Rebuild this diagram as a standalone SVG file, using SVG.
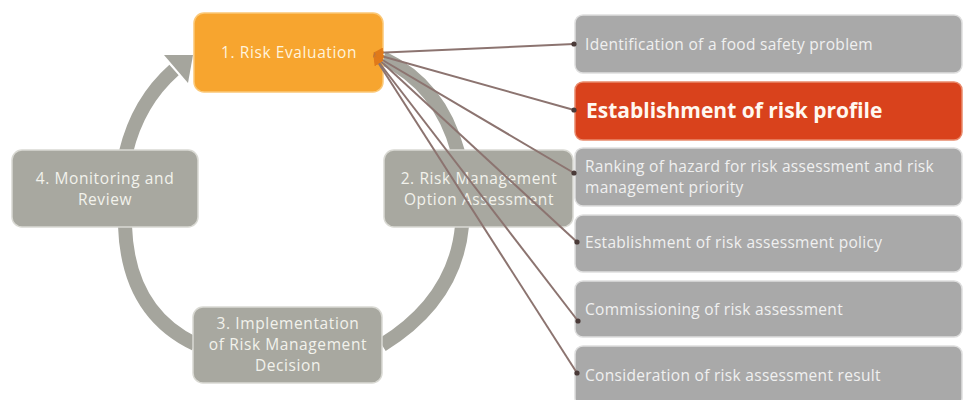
<svg xmlns="http://www.w3.org/2000/svg" width="965" height="400" viewBox="0 0 965 400">
  <style>
    .ring { fill: none; stroke: #a5a59d; stroke-width: 14; stroke-linecap: butt; }
    .step { fill: #a8a8a0; stroke: #d9d9d3; stroke-width: 1.5; }
    .step-active { fill: #f7a52f; stroke: #fbc877; stroke-width: 1.5; }
    .item { fill: #a9a9a9; stroke: #dedede; stroke-width: 1.5; }
    .item-hl { fill: #d9421c; stroke: #e98a6c; stroke-width: 1.5; }
    .step-text { font-family: "Open Sans", "Noto Sans", sans-serif; font-size: 15.5px; letter-spacing: 0.6px; fill: #f2f2ec; text-anchor: middle; }
    .active-text { fill: #fff3dc; }
    .item-text { font-family: "Open Sans", "Noto Sans", sans-serif; font-size: 15.5px; letter-spacing: 0.3px; fill: #f0f0f0; }
    .hl-text { font-family: "Open Sans", "Noto Sans", sans-serif; font-size: 21px; font-weight: bold; fill: #fff8f0; }
    .link { stroke: #8c7470; stroke-width: 2; fill: none; marker-end: url(#dot); marker-start: url(#tip); }
  </style>
  <defs>
    <marker id="dot" viewBox="0 0 6 6" refX="3" refY="3" markerWidth="6" markerHeight="6" markerUnits="userSpaceOnUse">
      <circle cx="3" cy="3" r="2.6" fill="#4a3a38"/>
    </marker>
    <marker id="tip" viewBox="0 0 10 10" refX="1" refY="5" markerWidth="10" markerHeight="10" markerUnits="userSpaceOnUse" orient="auto">
      <path d="M0,5 L10,0 L10,10 Z" fill="#e07a1a"/>
    </marker>
  </defs>

  <!-- cycle ring between the four steps -->
  <g id="cycle-ring">
    <path class="ring" d="M126,152 Q138,102 174,70"/>
    <polygon points="164,55 193,55 188,83" fill="#a5a59d"/>
    <path class="ring" d="M383,58 Q440,85 458,152"/>
    <path class="ring" d="M462,226 Q455,300 382,345"/>
    <path class="ring" d="M125,226 Q128,312 195,344"/>
  </g>

  <!-- cycle steps -->
  <g id="step-1">
    <rect class="step-active" x="194" y="13" width="189" height="79" rx="10"/>
    <text class="step-text active-text" x="289" y="58">1. Risk Evaluation</text>
  </g>
  <g id="step-2">
    <rect class="step" x="384" y="150" width="189" height="77" rx="10"/>
    <text class="step-text" x="479" y="184">2. Risk Management</text>
    <text class="step-text" x="479" y="205">Option Assessment</text>
  </g>
  <g id="step-3">
    <rect class="step" x="193" y="307" width="189" height="76" rx="10"/>
    <text class="step-text" x="288" y="329">3. Implementation</text>
    <text class="step-text" x="288" y="350">of Risk Management</text>
    <text class="step-text" x="288" y="371">Decision</text>
  </g>
  <g id="step-4">
    <rect class="step" x="12" y="150" width="186" height="77" rx="10"/>
    <text class="step-text" x="105" y="184">4. Monitoring and</text>
    <text class="step-text" x="105" y="205">Review</text>
  </g>

  <!-- risk evaluation activities -->
  <g id="item-1">
    <rect class="item" x="575" y="15" width="387" height="58" rx="8"/>
    <text class="item-text" x="585" y="50">Identification of a food safety problem</text>
  </g>
  <g id="item-2">
    <rect class="item-hl" x="575" y="82" width="387" height="58" rx="8"/>
    <text class="hl-text" x="586" y="118">Establishment of risk profile</text>
  </g>
  <g id="item-3">
    <rect class="item" x="575" y="148" width="387" height="58" rx="8"/>
    <text class="item-text" x="585" y="172">Ranking of hazard for risk assessment and risk</text>
    <text class="item-text" x="585" y="193">management priority</text>
  </g>
  <g id="item-4">
    <rect class="item" x="575" y="215" width="387" height="57" rx="8"/>
    <text class="item-text" x="585" y="248">Establishment of risk assessment policy</text>
  </g>
  <g id="item-5">
    <rect class="item" x="575" y="281" width="387" height="56" rx="8"/>
    <text class="item-text" x="585" y="315">Commissioning of risk assessment</text>
  </g>
  <g id="item-6">
    <rect class="item" x="575" y="346" width="387" height="60" rx="8"/>
    <text class="item-text" x="585" y="381">Consideration of risk assessment result</text>
  </g>

  <!-- links from step 1 to each activity -->
  <g id="connectors">
    <line class="link" x1="374" y1="53" x2="574" y2="44"/>
    <line class="link" x1="374" y1="54" x2="574" y2="110"/>
    <line class="link" x1="374" y1="55" x2="574" y2="173"/>
    <line class="link" x1="374" y1="55" x2="577" y2="242"/>
    <line class="link" x1="374" y1="56" x2="578" y2="321"/>
    <line class="link" x1="374" y1="56" x2="577" y2="373"/>
  </g>
</svg>
